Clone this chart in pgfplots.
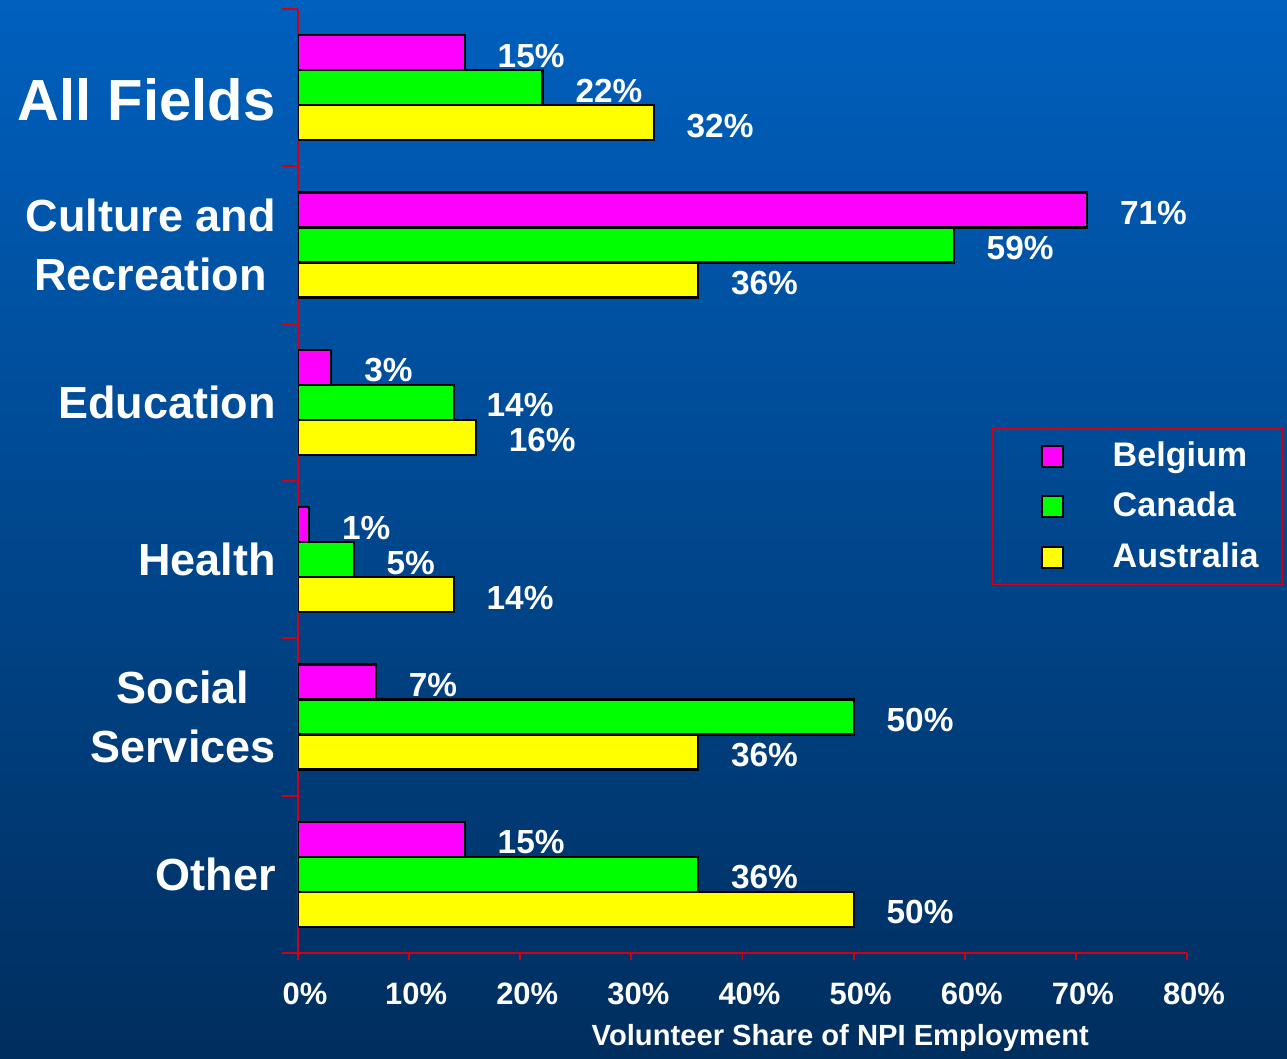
\documentclass[border=0pt]{standalone}
\usepackage{pgfplots}
\pgfplotsset{compat=1.18}
\usepackage{fontspec}
\setmainfont{Liberation Sans}
\definecolor{bgtop}{RGB}{0,96,190}
\definecolor{bgbot}{RGB}{0,46,94}
\definecolor{axred}{RGB}{210,0,20}
\begin{document}
\bfseries
\begin{tikzpicture}[x=1cm,y=1cm]
\useasboundingbox (0,0) rectangle (12.87,10.58);
\shade[top color=bgtop, bottom color=bgbot] (0,0) rectangle (12.87,10.58);
\begin{axis}[
  at={(2.98cm,1.05cm)}, anchor=south west,
  scale only axis, width=8.89cm, height=9.44cm,
  xbar, bar width=0.35cm,
  xmin=0, xmax=80, ymin=-0.5, ymax=5.5,
  axis x line*=bottom, axis y line*=left,
  axis line style={-, axred, line width=0.5pt},
  tick align=outside,
  major tick length=0.07cm, minor tick length=0.16cm,
  xtick={0,10,...,80},
  xticklabel={\pgfmathprintnumber{\tick}\%},
  /pgf/number format/assume math mode=true,
  major x tick style={axred, line width=0.5pt},
  xticklabel style={text=white, font=\fontsize{8.8}{10}\selectfont\bfseries, anchor=north, yshift=-0.10cm, xshift=0.07cm},
  ytick={0,...,5},
  yticklabels={Other,{Social\\Services},Health,Education,{Culture and\\Recreation},{\raisebox{-0.33cm}[0pt][0pt]{\fontsize{16.5}{18}\selectfont All Fields}}},
  yticklabel style={align=center, text=white, font=\fontsize{12.8}{16.8}\selectfont\bfseries, xshift=-0.03cm},
  major y tick style={draw=none},
  minor ytick={-0.5,0.5,...,5.5},
  minor y tick style={axred, line width=0.5pt},
  xlabel={Volunteer Share of NPI Employment},
  xlabel style={at={(axis description cs:0.61,0)}, anchor=center, yshift=-0.85cm, text=white, font=\fontsize{8.3}{10}\selectfont\bfseries},
  nodes near coords={\pgfmathprintnumber{\pgfplotspointmeta}\%},
  every node near coord/.append style={anchor=west, inner sep=0pt, xshift=0.32cm, yshift=-0.03cm, text=white, font=\fontsize{9.5}{11}\selectfont\bfseries},
  legend image code/.code={\path[draw=none,fill=none] (0,0) -- (0.49cm,0); \draw[#1, line width=0.6pt] (0.49cm,-0.105cm) rectangle (0.70cm,0.105cm); \path[draw=none,fill=none] (1.20cm,0);},
  legend style={at={(rel axis cs:0.7807,0.556)}, anchor=north west, draw=axred, fill=none,
    inner xsep=0pt, inner ysep=0.125cm, row sep=0.205cm, column sep=0pt,
    nodes={inner sep=0pt, text=white},
    font=\fontsize{9.7}{11}\selectfont\bfseries},
  legend cell align=left,
]
\addplot[fill={rgb,255:red,255;green,0;blue,255}, draw=black, line width=0.6pt, bar shift=0.35cm]
  coordinates {(15,5) (71,4) (3,3) (1,2) (7,1) (15,0)};
\addplot[fill={rgb,255:red,0;green,255;blue,0}, draw=black, line width=0.6pt, bar shift=0cm]
  coordinates {(22,5) (59,4) (14,3) (5,2) (50,1) (36,0)};
\addplot[fill={rgb,255:red,255;green,255;blue,0}, draw=black, line width=0.6pt, bar shift=-0.35cm]
  coordinates {(32,5) (36,4) (16,3) (14,2) (36,1) (50,0)};
\legend{Belgium,Canada,Australia\hspace*{0.24cm}}
\end{axis}
\end{tikzpicture}
\end{document}
